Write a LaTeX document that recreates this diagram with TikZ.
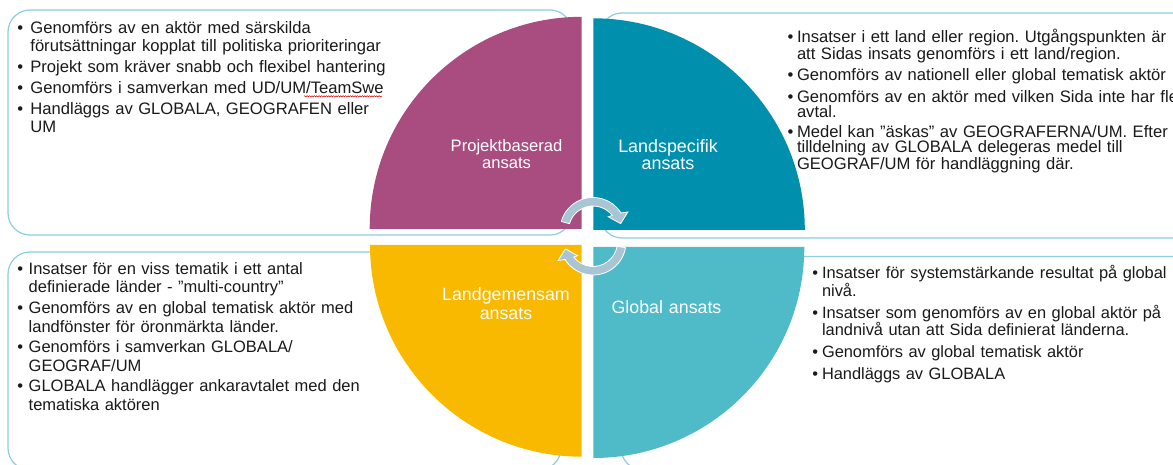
\documentclass[tikz,border=0pt]{standalone}
\usepackage{fontspec}
\setmainfont{Liberation Sans}
\usetikzlibrary{decorations.pathmorphing}
\definecolor{qpurple}{HTML}{A94C7F}
\definecolor{qteal}{HTML}{0090AD}
\definecolor{qyellow}{HTML}{F9B900}
\definecolor{qlteal}{HTML}{4FBBC9}
\definecolor{boxline}{HTML}{8CCFE0}
\definecolor{arrowc}{HTML}{A9C5D3}
\definecolor{txt}{HTML}{1A1A1A}
\newcommand\bu[1]{\makebox[#1][l]{•}}
\newcommand\ind[1]{\hspace*{#1}}
\setlength\lineskiplimit{-50pt}
\frenchspacing
\begin{document}
\frenchspacing
\begin{tikzpicture}[x=1pt,y=-1pt,
  box/.style={draw=boxline, line width=1.2pt, rounded corners=22pt},
  lbl/.style={text=white, inner sep=0pt, anchor=base, text width=170pt, align=center},
  bodytext/.style={text=txt, inner sep=0pt, anchor=base west, text width=420pt, align=left},
  circarrow/.style={fill=arrowc, draw=white, line width=0.8pt}
]
\useasboundingbox (0,0) rectangle (1173,465);
\fill[white] (0,0) rectangle (1173,465);
\clip (0,0) rectangle (1173,465);

% text boxes
\draw[box] (8,10) rectangle (572,235);
\draw[box] (600,13) rectangle (1200,238);
\draw[box] (8,252) rectangle (561,470);
\draw[box] (621,256.5) rectangle (1200,470);

% quadrants
\fill[qpurple] (581.7,228.8) -- (369.7,228.8) arc[start angle=180,end angle=90,radius=212pt] -- cycle;
\fill[qteal] (593.3,229.8) -- (593.3,18.3) arc[start angle=90,end angle=0,radius=211.5pt] -- cycle;
\fill[qyellow] (581.7,245) -- (581.7,456.7) arc[start angle=270,end angle=180,radius=211.7pt] -- cycle;
\fill[qlteal] (593.3,247) -- (804.3,247) arc[start angle=0,end angle=-90,radius=211pt] -- cycle;

% circular arrows
\coordinate (c1) at (593,230.5);
\coordinate (c2) at (593,242);
\filldraw[circarrow]
  ([shift={(164:33pt)}]c1) arc[start angle=164,end angle=32,radius=33pt]
  -- ([shift={(28:39.5pt)}]c1) -- ([shift={(14:28.5pt)}]c1) -- ([shift={(42:20.5pt)}]c1)
  -- ([shift={(38:24.5pt)}]c1) arc[start angle=38,end angle=164,radius=24.5pt] -- cycle;
\filldraw[circarrow]
  ([shift={(-10:33pt)}]c2) arc[start angle=-10,end angle=-148,radius=33pt]
  -- ([shift={(-152:39.5pt)}]c2) -- ([shift={(-166:28.5pt)}]c2) -- ([shift={(-138:20.5pt)}]c2)
  -- ([shift={(-142:24.5pt)}]c2) arc[start angle=-142,end angle=-10,radius=24.5pt] -- cycle;

% quadrant labels
\node[lbl, font=\fontsize{16.6}{16.6}\selectfont] (pb) at (506.5,151.7) {Projektbaserad\\ansats};
\node[lbl, font=\fontsize{17.9}{17.7}\selectfont] (ls) at (668,152.3) {Landspecifik\\ansats};
\node[lbl, font=\fontsize{17.8}{19.3}\selectfont] (lg) at (506,300.7) {Landgemensam\\ansats};
\node[lbl, font=\fontsize{17.8}{17.8}\selectfont] (ga) at (666.5,313.3) {Global ansats};

% body texts
\node[bodytext, font=\fontsize{16.6}{18}\selectfont] (tl) at (17.1,33.3) {%
\bu{13.1pt}Genomförs av en aktör med särskilda\\
\ind{13.1pt}förutsättningar kopplat till politiska prioriteringar\\[3pt]
\bu{13.1pt}Projekt som kräver snabb och flexibel hantering\\[3pt]
\bu{13.1pt}Genomförs i samverkan med UD/UM/TeamSwe\\[3pt]
\bu{13.1pt}Handläggs av GLOBALA, GEOGRAFEN eller\\
\ind{13.1pt}UM};
\draw[red!85!black, line width=0.5pt, decorate, decoration={snake, amplitude=0.6pt, segment length=2.4pt}] (304,96.3) -- (382,96.3);

\node[bodytext, font=\fontsize{16.6}{15}\selectfont] (tr) at (787.3,42.7) {%
\bu{9.5pt}Insatser i ett land eller region. Utgångspunkten är\\
\ind{9.5pt}att Sidas insats genomförs i ett land/region.\\[5.2pt]
\bu{9.5pt}Genomförs av nationell eller global tematisk aktör\\[5.2pt]
\bu{9.5pt}Genomförs av en aktör med vilken Sida inte har fler\\
\ind{9.5pt}avtal.\\[5.2pt]
\bu{9.5pt}Medel kan ”äskas” av GEOGRAFERNA/UM. Efter\\
\ind{9.5pt}tilldelning av GLOBALA delegeras medel till\\
\ind{9.5pt}GEOGRAF/UM för handläggning där.};

\node[bodytext, font=\fontsize{16.5}{18.6}\selectfont] (bl) at (17.1,274.3) {%
\bu{11.4pt}Insatser för en viss tematik i ett antal\\
\ind{11.4pt}definierade länder - ”multi-country”\\[2pt]
\bu{11.4pt}Genomförs av en global tematisk aktör med\\
\ind{11.4pt}landfönster för öronmärkta länder.\\[2pt]
\bu{11.4pt}Genomförs i samverkan GLOBALA/\\
\ind{11.4pt}GEOGRAF/UM\\[2pt]
\bu{11.4pt}GLOBALA handlägger ankaravtalet med den\\
\ind{11.4pt}tematiska aktören};

\node[bodytext, font=\fontsize{16.4}{15.2}\selectfont] (br) at (812.1,279) {%
\bu{9.7pt}Insatser för systemstärkande resultat på global\\
\ind{9.7pt}nivå.\\[6.2pt]
\bu{9.7pt}Insatser som genomförs av en global aktör på\\
\ind{9.7pt}landnivå utan att Sida definierat länderna.\\[6.2pt]
\bu{9.7pt}Genomförs av global tematisk aktör\\[6.2pt]
\bu{9.7pt}Handläggs av GLOBALA};
\end{tikzpicture}
\end{document}
